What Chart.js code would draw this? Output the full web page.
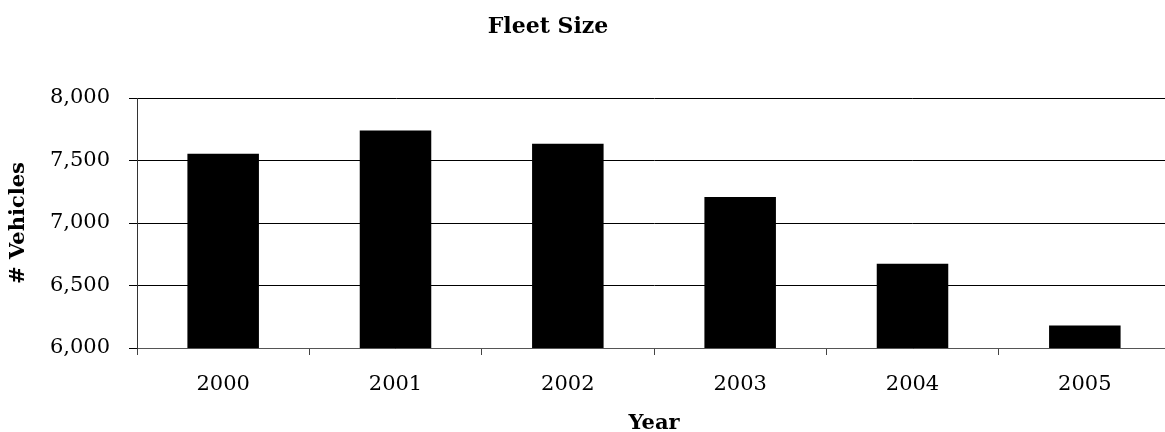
<!DOCTYPE html>
<html>
<head>
<meta charset="utf-8">
<script src="https://cdn.jsdelivr.net/npm/chart.js@4/dist/chart.umd.min.js"></script>
<style>
  html, body { margin: 0; padding: 0; background: #fff; overflow: hidden; }
  #wrap { width: 1171px; height: 432px; position: relative; }
</style>
</head>
<body>
<div id="wrap"><canvas id="c" width="1171" height="432"></canvas></div>
<script>
const years = ["2000", "2001", "2002", "2003", "2004", "2005"];
const vehicles = [7555, 7741, 7634, 7208, 6674, 6181];
const yMin = 6000, yMax = 8000, yStep = 500;
const chartTitle = "Fleet Size";
const xTitle = "Year";
const yTitle = "# Vehicles";

const FONT = "'DejaVu Serif', 'Liberation Serif', serif";

const titlePlugin = {
  id: 'customTitle',
  afterDraw(chart) {
    const ctx = chart.ctx;
    ctx.save();
    ctx.font = "bold 22px " + FONT;
    ctx.fillStyle = "#000";
    ctx.textAlign = "center";
    ctx.textBaseline = "alphabetic";
    ctx.fillText(chartTitle, 548, 33);
    ctx.restore();
  }
};

new Chart(document.getElementById('c'), {
  type: 'bar',
  data: {
    labels: years,
    datasets: [{
      data: vehicles,
      backgroundColor: '#000',
      borderWidth: 0,
      categoryPercentage: 1.0,
      barPercentage: 0.415
    }]
  },
  options: {
    responsive: false,
    animation: false,
    events: [],
    layout: { padding: { top: 98, right: 0, left: 0, bottom: 0 } },
    plugins: { legend: { display: false }, tooltip: { enabled: false }, title: { display: false } },
    scales: {
      x: {
        offset: true,
        grid: { offset: true, drawOnChartArea: false, drawTicks: true, tickLength: 7, color: '#444', lineWidth: 1 },
        border: { display: true, color: '#555', width: 1 },
        ticks: { color: '#000', font: { family: FONT, size: 21 }, padding: 17, maxRotation: 0 },
        title: { display: true, text: xTitle, color: '#000', font: { family: FONT, size: 21, weight: 'bold', lineHeight: 0.85 }, padding: { top: 0, bottom: 0 } },
        afterFit(scale) { scale.height = 84; }
      },
      y: {
        min: yMin, max: yMax,
        grid: { color: '#000', lineWidth: 1, drawTicks: true, tickLength: 8 },
        border: { display: true, color: '#333', width: 1 },
        ticks: {
          stepSize: yStep, color: '#000', font: { family: FONT, size: 21 }, padding: 19,
          callback: v => v.toLocaleString('en-US')
        },
        title: { display: true, text: yTitle, color: '#000', font: { family: FONT, size: 21, weight: 'bold' }, padding: { top: 6, bottom: 0 } },
        afterFit(scale) { scale.width = 137; }
      }
    }
  },
  plugins: [titlePlugin]
});
</script>
</body>
</html>
